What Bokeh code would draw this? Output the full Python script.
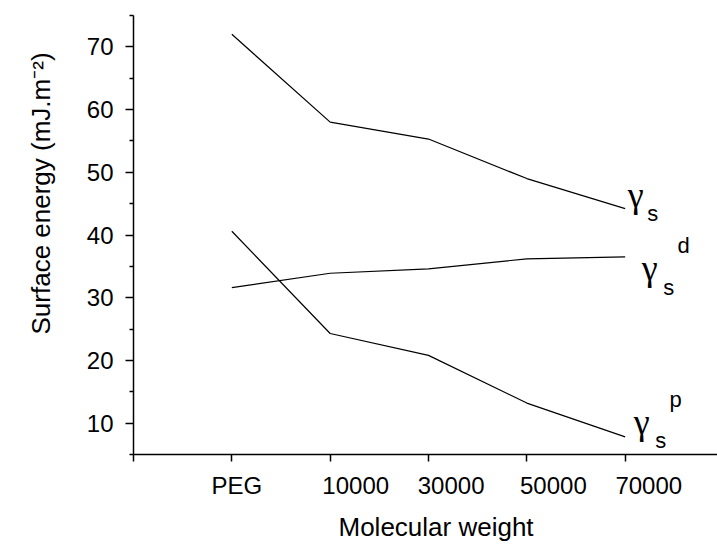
from bokeh.plotting import figure
from bokeh.models import FixedTicker, LinearAxis, Label, Range1d, Title
from bokeh.embed import file_html
from bokeh.resources import INLINE

# ---- data ----
categories = ["PEG", "10000", "30000", "50000", "70000"]
gamma_s = [72.0, 58.0, 55.3, 49.0, 44.2]
gamma_s_d = [31.6, 33.9, 34.6, 36.2, 36.5]
gamma_s_p = [40.6, 24.3, 20.8, 13.2, 7.8]
y_major = [10, 20, 30, 40, 50, 60, 70]
y_minor = [5, 15, 25, 35, 45, 55, 65, 75]

xpos = list(range(1, len(categories) + 1))
# the original chart prints its category labels shifted right of the ticks
label_shift = [0.05, 0.26, 0.23, 0.27, 0.24]
label_pos = [x + s for x, s in zip(xpos, label_shift)]

FONT = "Liberation Sans"
GFONT = "Liberation Serif"

p = figure(width=717, height=549, output_backend="svg", toolbar_location=None,
           x_range=Range1d(0, 5.939), y_range=Range1d(5, 75),
           x_axis_location=None, y_axis_location=None,
           min_border_left=132, min_border_top=15, min_border_right=0,
           min_border_bottom=94)
p.outline_line_color = None
p.xgrid.visible = False
p.ygrid.visible = False
p.background_fill_color = "white"
p.border_fill_color = "white"

for ys in (gamma_s, gamma_s_d, gamma_s_p):
    p.line(xpos, ys, line_color="black", line_width=1.2)

# y axis
yax = LinearAxis(ticker=FixedTicker(ticks=y_major, minor_ticks=y_minor))
yax.axis_line_width = 1.5
yax.major_tick_line_width = 1.5
yax.minor_tick_line_width = 1.5
yax.major_tick_out = 8
yax.major_tick_in = 0
yax.minor_tick_out = 4
yax.minor_tick_in = 0
yax.major_label_standoff = 12
yax.major_label_text_font = FONT
yax.major_label_text_font_size = "24px"
yax.major_label_text_color = "black"
p.add_layout(yax, "left")

# x axis: line, tick marks at the data positions (drawn as minor ticks),
# category labels printed a little right of them, as in the original
xax = LinearAxis(ticker=FixedTicker(ticks=label_pos, minor_ticks=[0] + xpos),
                 major_label_overrides={lp: c for lp, c in zip(label_pos, categories)})
xax.axis_line_width = 1.5
xax.major_tick_line_color = None
xax.major_tick_out = 7
xax.major_tick_in = 0
xax.minor_tick_line_width = 1.5
xax.minor_tick_out = 7
xax.minor_tick_in = 0
xax.major_label_standoff = 10
xax.major_label_text_font = FONT
xax.major_label_text_font_size = "24px"
xax.major_label_text_color = "black"
p.add_layout(xax, "below")

# axis titles
p.add_layout(Title(text="Molecular weight", align="left", offset=205, standoff=16,
                   text_font=FONT, text_font_size="26px", text_font_style="normal",
                   text_color="black"), "below")
p.add_layout(Title(text="Surface energy (mJ.m\u207b\u00b2)", align="left", offset=120,
                   standoff=51, vertical_align="top", text_font=FONT,
                   text_font_size="26px", text_font_style="normal",
                   text_color="black"), "left")

# series labels next to the line ends
def put(series, txt, dx, dy, font, size):
    p.add_layout(Label(x=xpos[-1], y=series[-1], x_offset=dx, y_offset=dy, text=txt,
                       text_align="center", text_baseline="middle",
                       text_font=font, text_font_size=size, text_color="black"))

put(gamma_s, "\u03b3", 10.5, 14, GFONT, "36px")
put(gamma_s, "s", 27.5, -5, FONT, "22px")
put(gamma_s_d, "\u03b3", 24.5, -11, GFONT, "36px")
put(gamma_s_d, "s", 43.5, -31, FONT, "22px")
put(gamma_s_d, "d", 58.5, 11, FONT, "22px")
put(gamma_s_p, "\u03b3", 16.5, 15, GFONT, "36px")
put(gamma_s_p, "s", 35.5, -4, FONT, "22px")
put(gamma_s_p, "p", 50.5, 37, FONT, "22px")

open("out.html", "w").write(file_html(p, INLINE))
